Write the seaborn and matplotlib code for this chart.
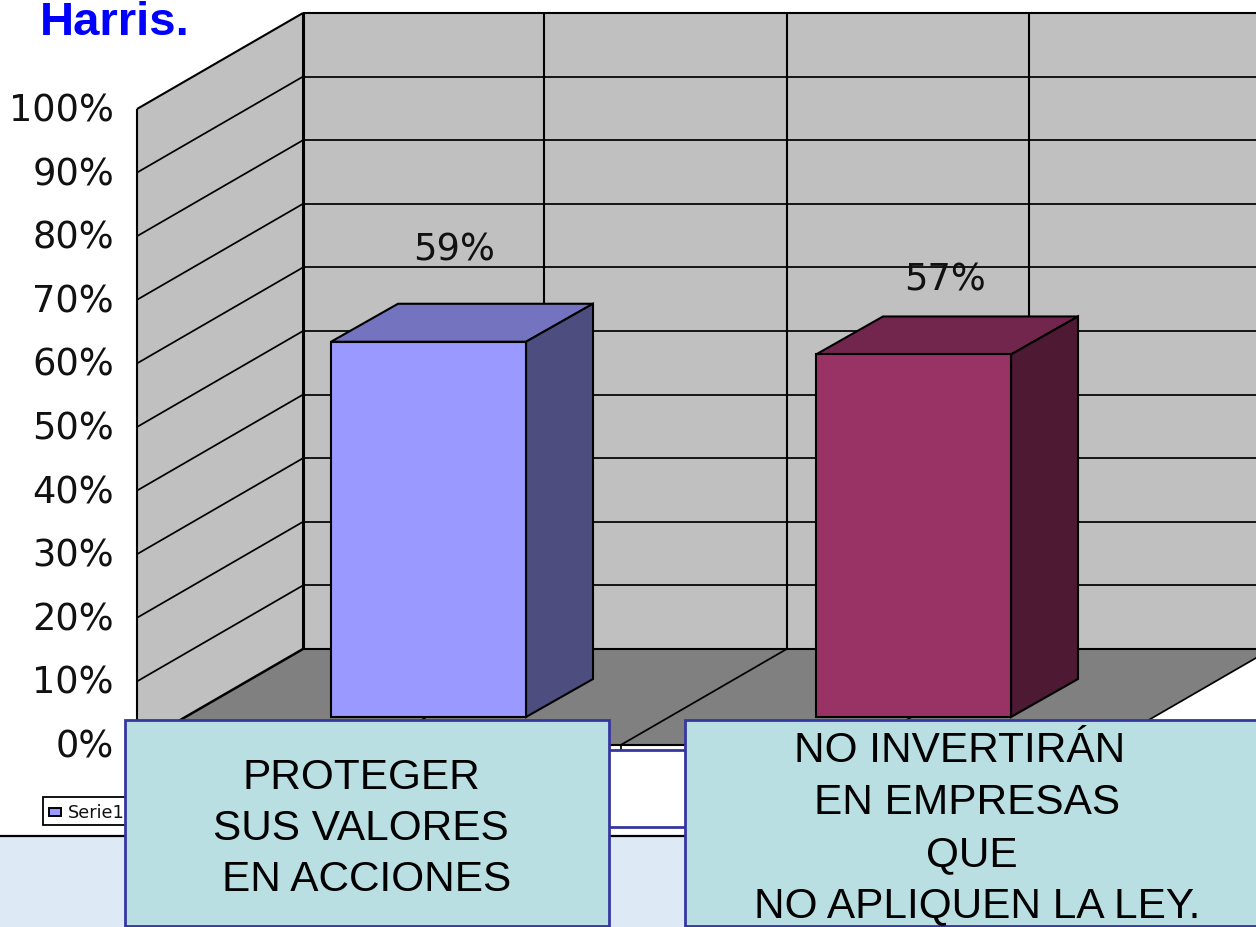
import matplotlib
matplotlib.use("Agg")
import matplotlib.pyplot as plt
from matplotlib.patches import Polygon, Rectangle
import pandas as pd
import seaborn as sns

# --- data ---
categories = ["PROTEGER SUS VALORES EN ACCIONES", "NO INVERTIRÁN EN EMPRESAS QUE NO APLIQUEN LA LEY."]
values = [59, 57]
value_labels = ["59%", "57%"]
y_ticks = [0, 10, 20, 30, 40, 50, 60, 70, 80, 90, 100]
y_tick_labels = [f"{t}%" for t in y_ticks]
box_left_lines = ["PROTEGER", "SUS VALORES", "EN ACCIONES"]
box_right_lines = ["NO INVERTIRÁN", "EN EMPRESAS", "QUE", "NO APLIQUEN LA LEY."]
title_text = "Harris."
legend_text = "Serie1"

# --- styles ---
front_cols = ["#9999FF", "#993366"]
top_cols = ["#7373BF", "#73264D"]
side_cols = ["#4D4D80", "#4D1933"]
W, H = 1256, 927
X0, STEP = 428.5, 485.0      # pixel x of first category, pixels per category
Y0, PPU = 717.0, 6.36        # pixel y of zero on the bars' plane, pixels per percent
THIN, MID = 1.25, 1.5


def sx(px):
    return (px - X0) / STEP


def sy(py):
    return (Y0 - py) / PPU


def poly(ax, pts, **kw):
    ax.add_patch(Polygon([(sx(a), sy(b)) for a, b in pts], closed=True, **kw))


def line(ax, xs, ys, lw=THIN, z=2, color="black"):
    ax.plot([sx(a) for a in xs], [sy(b) for b in ys], color=color, lw=lw, zorder=z,
            solid_capstyle="butt")


sns.set_theme(style="white")
fig = plt.figure(figsize=(W / 100, H / 100), dpi=100, facecolor="white")
ax = fig.add_axes([0, 0, 1, 1])

df = pd.DataFrame({"cat": categories, "val": values})
sns.barplot(data=df, x="cat", y="val", hue="cat", palette=front_cols, width=195 / STEP,
            edgecolor="black", linewidth=MID, legend=False, ax=ax, zorder=6, saturation=1)
bars = list(ax.patches)
ax.set_xlim(sx(0), sx(W))
ax.set_ylim(sy(H), sy(0))
ax.set_axis_off()

# walls and floor
FX, FY = 137, 745            # front-left floor corner
BX, BY = 303, 649            # back-left floor corner
TOP = PPU * 100
poly(ax, [(FX, FY - TOP), (BX, BY - TOP), (BX, BY), (FX, FY)], fc="#C0C0C0", ec="none", zorder=1)
poly(ax, [(BX, BY - TOP), (W + 20, BY - TOP), (W + 20, BY), (BX, BY)], fc="#C0C0C0", ec="none", zorder=1)
poly(ax, [(BX, BY), (1271, BY), (1105, FY), (FX, FY)], fc="#808080", ec="none", zorder=1)

for t in y_ticks[1:]:
    d = PPU * t
    lw = MID if t == 100 else THIN
    line(ax, [FX, BX], [FY - d, BY - d], lw=lw)
    line(ax, [BX, W + 5], [BY - d, BY - d], lw=lw)
line(ax, [BX, W + 5], [BY, BY], lw=MID)
line(ax, [FX, FX], [FY - TOP, FY], lw=MID)
line(ax, [BX, BX], [BY - TOP, BY], lw=2.2)
line(ax, [FX, BX], [FY, BY], lw=1.8)
for gx in [544.25, 786.75, 1029.25, 1271.5]:
    line(ax, [gx, gx], [BY - TOP, BY], lw=MID)
    line(ax, [gx, gx - 166], [BY, FY], lw=THIN)
    line(ax, [gx - 166, gx - 166], [FY, FY + 5], lw=THIN)
line(ax, [FX, 1105], [FY, FY], lw=MID)

# 3-D faces of the bars, built from the seaborn bars
DX, DY = 67, 38
dx, dy = DX / STEP, DY / PPU
for i, p in enumerate(bars):
    x0, x1, h = p.get_x(), p.get_x() + p.get_width(), p.get_height()
    ax.add_patch(Polygon([(x0, h), (x1, h), (x1 + dx, h + dy), (x0 + dx, h + dy)], closed=True,
                         fc=top_cols[i], ec="black", lw=MID, zorder=5))
    ax.add_patch(Polygon([(x1, 0), (x1, h), (x1 + dx, h + dy), (x1 + dx, dy)], closed=True,
                         fc=side_cols[i], ec="black", lw=MID, zorder=5))

# axis labels
for t, lab in zip(y_ticks, y_tick_labels):
    ax.text(sx(114), sy(FY - PPU * t + 2), lab, ha="right", va="center", fontsize=26.5,
            family="DejaVu Sans", color="#111111", zorder=8)

# value labels
label_off = [(25.5, 81), (31, 64)]
for i, (v, lab) in enumerate(zip(values, value_labels)):
    ax.text(i + label_off[i][0] / STEP, v + label_off[i][1] / PPU, lab, ha="center", va="baseline",
            fontsize=26.5, family="DejaVu Sans", color="#111111", zorder=8)

# page: white strip, lower border, background
ax.add_patch(Rectangle((sx(0), sy(H)), sx(W) - sx(0), sy(836) - sy(H), fc="#DDEAF6", ec="none", zorder=3))
line(ax, [0, W], [836, 836], lw=1.6, z=4)

# white frame seen between the boxes
ax.add_patch(Rectangle((sx(590), sy(827)), sx(720) - sx(590), sy(750) - sy(827), fc="white",
                       ec="#3636A0", lw=2, zorder=7))

# legend
ax.add_patch(Rectangle((sx(43), sy(825)), sx(140) - sx(43), sy(797) - sy(825), fc="white",
                       ec="black", lw=1.3, zorder=7))
ax.add_patch(Rectangle((sx(49), sy(816)), sx(61) - sx(49), sy(808) - sy(816), fc=front_cols[0],
                       ec="black", lw=1.4, zorder=8))
ax.text(sx(68), sy(813), legend_text, ha="left", va="center", fontsize=12.8, family="DejaVu Sans",
        color="#111111", zorder=8)

# text boxes
for xa, xb in [(125, 609), (685, W + 10)]:
    ax.add_patch(Rectangle((sx(xa), sy(926)), sx(xb) - sx(xa), sy(720) - sy(926), fc="#B9DFE3",
                           ec="#3636A0", lw=2, zorder=9))
left_cx = [361, 361, 367]
left_cy = [778, 829, 880]
for s, cx, cy in zip(box_left_lines, left_cx, left_cy):
    ax.text(sx(cx), sy(cy), s, ha="center", va="center", fontsize=30.5, family="Liberation Sans",
            color="black", zorder=10)
right_cx = [960, 967, 972, 977]
right_cy = [751, 803, 855, 906]
for s, cx, cy in zip(box_right_lines, right_cx, right_cy):
    ax.text(sx(cx), sy(cy), s, ha="center", va="center", fontsize=30.5, family="Liberation Sans",
            color="black", zorder=10)

# title
ax.text(sx(40), sy(35), title_text, ha="left", va="baseline", fontsize=34, fontweight="bold",
        family="Liberation Sans", color="#0000FF", zorder=10)

fig.savefig("out.png", dpi=100)
